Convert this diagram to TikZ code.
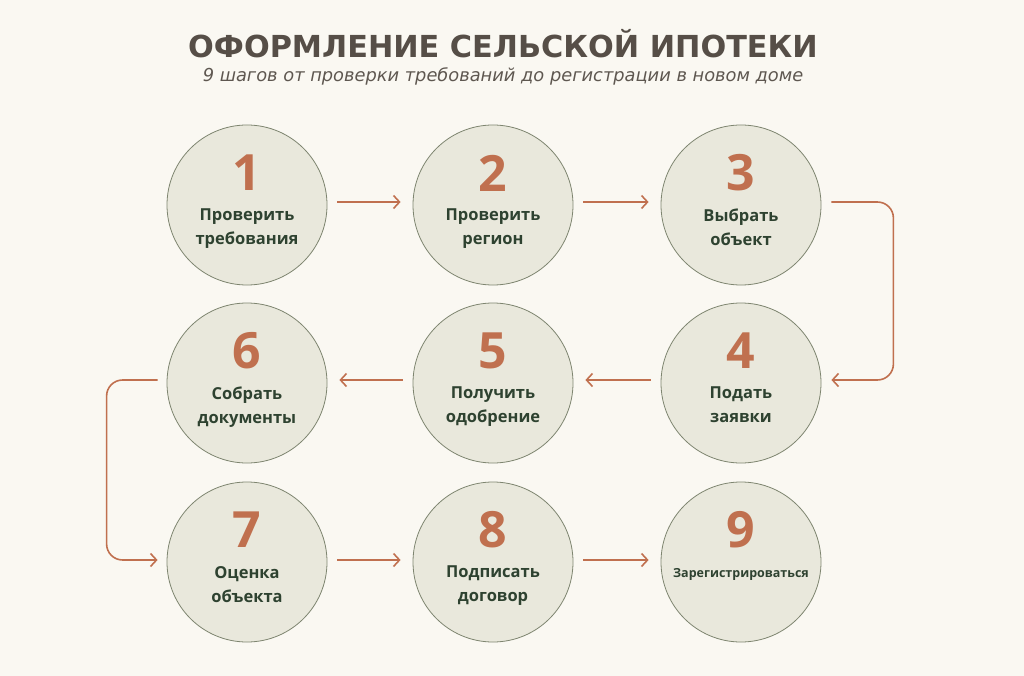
\documentclass[tikz,border=0pt]{standalone}
\usepackage{fontspec}
\usetikzlibrary{arrows.meta}
\newfontfamily\titlefont{DejaVu Sans}
\newfontfamily\labelfont{Open Sans}
\definecolor{bg}{HTML}{FAF8F2}
\definecolor{titlecol}{HTML}{564E47}
\definecolor{subcol}{HTML}{5E5750}
\definecolor{numcol}{HTML}{C0704F}
\definecolor{txtcol}{HTML}{2E4230}
\definecolor{circfill}{HTML}{E9E8DC}
\definecolor{circdraw}{HTML}{7E8570}
\definecolor{arrowcol}{HTML}{C0704F}
\tikzset{
  stepcirc/.style={circle, minimum size=160pt, inner sep=0pt, fill=circfill, draw=circdraw, line width=0.8pt},
  numlabel/.style={font=\labelfont\bfseries\fontsize{50}{50}\selectfont, text=numcol, anchor=center},
  steplabel/.style={font=\labelfont\bfseries\fontsize{16.5}{24}\selectfont, text=txtcol, align=center, anchor=north, inner sep=0pt},
  flow/.style={draw=arrowcol, line width=1.6pt, -{Straight Barb[length=6pt,width=13pt,line width=1.6pt]}}
}
\begin{document}
\begin{tikzpicture}[x=1pt,y=-1pt]
\fill[bg] (0,0) rectangle (1024,676);
\useasboundingbox (0,0) rectangle (1024,676);
\node[font=\titlefont\bfseries\fontsize{30.3}{34}\selectfont, text=titlecol] (title) at (503,44) {ОФОРМЛЕНИЕ СЕЛЬСКОЙ ИПОТЕКИ};
\node[font=\titlefont\itshape\fontsize{17.8}{20}\selectfont, text=subcol] (subtitle) at (503,76) {9 шагов от проверки требований до регистрации в новом доме};
% circles
\node[stepcirc] (c1) at (247,205) {};
\node[stepcirc] (c2) at (493,205) {};
\node[stepcirc] (c3) at (741,205) {};
\node[stepcirc] (c4) at (741,383) {};
\node[stepcirc] (c5) at (493,383) {};
\node[stepcirc] (c6) at (247,383) {};
\node[stepcirc] (c7) at (247,562) {};
\node[stepcirc] (c8) at (493,562) {};
\node[stepcirc] (c9) at (741,562) {};
% numbers
\foreach \n in {1,...,9} {
  \node[numlabel] (n\n) at ([yshift=32pt]c\n.center) {\n};
}
% labels
\node[steplabel] (t1) at ([yshift=-4pt]c1.center) {Проверить\\требования};
\node[steplabel] (t2) at ([yshift=-4pt]c2.center) {Проверить\\регион};
\node[steplabel] (t3) at ([yshift=-4pt]c3.center) {Выбрать\\объект};
\node[steplabel] (t4) at ([yshift=-4pt]c4.center) {Подать\\заявки};
\node[steplabel] (t5) at ([yshift=-4pt]c5.center) {Получить\\одобрение};
\node[steplabel] (t6) at ([yshift=-4pt]c6.center) {Собрать\\документы};
\node[steplabel] (t7) at ([yshift=-4pt]c7.center) {Оценка\\объекта};
\node[steplabel] (t8) at ([yshift=-4pt]c8.center) {Подписать\\договор};
\node[steplabel, font=\labelfont\bfseries\fontsize{12.5}{16}\selectfont] (t9) at ([yshift=-6pt]c9.center) {Зарегистрироваться};
% connectors
\draw[flow, shorten <=10pt, shorten >=12pt] ([yshift=3pt]c1.east) -- ([yshift=3pt]c2.west);
\draw[flow, shorten <=10pt, shorten >=12pt] ([yshift=3pt]c2.east) -- ([yshift=3pt]c3.west);
\draw[flow, rounded corners=16pt] ([xshift=10pt,yshift=3pt]c3.east) -- ++(62,0) |- ([xshift=10pt,yshift=3pt]c4.east);
\draw[flow, shorten <=10pt, shorten >=12pt] ([yshift=3pt]c4.west) -- ([yshift=3pt]c5.east);
\draw[flow, shorten <=10pt, shorten >=12pt] ([yshift=3pt]c5.west) -- ([yshift=3pt]c6.east);
\draw[flow, rounded corners=16pt] ([xshift=-9pt,yshift=3pt]c6.west) -- ++(-51,0) |- ([xshift=-9pt,yshift=2pt]c7.west);
\draw[flow, shorten <=10pt, shorten >=12pt] ([yshift=2pt]c7.east) -- ([yshift=2pt]c8.west);
\draw[flow, shorten <=10pt, shorten >=12pt] ([yshift=2pt]c8.east) -- ([yshift=2pt]c9.west);
\end{tikzpicture}
\end{document}
